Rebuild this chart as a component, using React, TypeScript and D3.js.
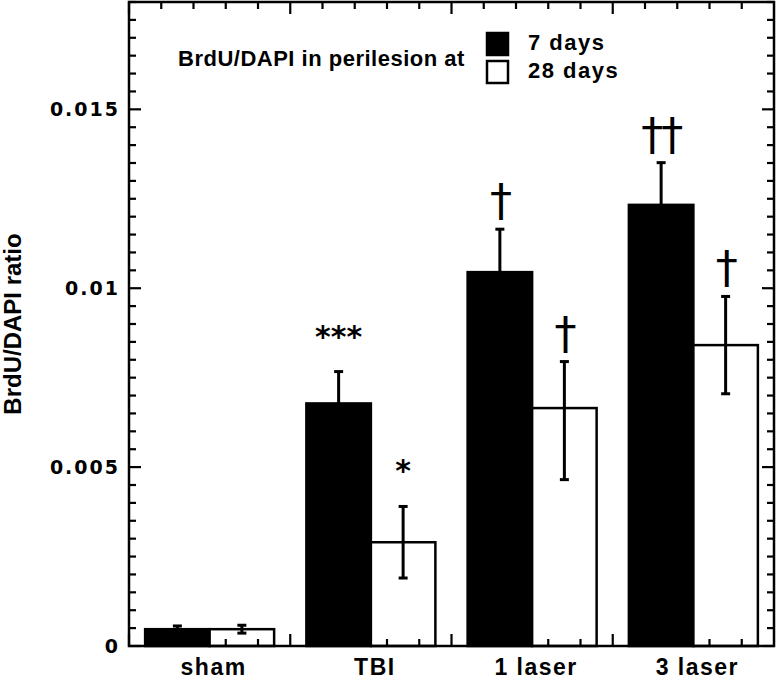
import * as d3 from 'd3'

const categories = ['sham', 'TBI', '1 laser', '3 laser']
const seriesNames = ['7 days', '28 days']
const days7 = [0.00047, 0.00678, 0.01045, 0.01233]
const days7ErrUp = [0.00009, 0.00089, 0.0012, 0.00118]
const days7ErrDown = [0.00009, 0.00089, 0.0012, 0.00118]
const days28 = [0.00047, 0.0029, 0.00665, 0.00841]
const days28ErrUp = [0.00011, 0.001, 0.0013, 0.00136]
const days28ErrDown = [0.00011, 0.001, 0.002, 0.00136]
const days7Marks = ['', '***', '†', '††']
const days28Marks = ['', '*', '†', '†']
const yTicks = [0, 0.005, 0.01, 0.015]
const yTickLabels = ['0', '0.005', '0.01', '0.015']

const W = 776
const H = 685
const left = 129
const right = 774
const top = 2
const bottom = 646
const boldSans = 'Liberation Sans, Arial, sans-serif'
const wideSans = 'DejaVu Sans, Verdana, sans-serif'

export default function App() {
  const x0 = d3.scaleBand<string>().domain(categories).range([left, right]).paddingInner(0).paddingOuter(0)
  const x1 = d3.scaleBand<string>().domain(seriesNames).range([0, x0.bandwidth()]).paddingInner(0).paddingOuter(0.25)
  const y = d3.scaleLinear().domain([0, 0.018]).range([bottom, top])

  const minorY = y.ticks(36)
  const xMinor: { x: number; major: boolean }[] = []
  categories.forEach(c => {
    d3.range(5).forEach(k => {
      xMinor.push({ x: (x0(c) as number) + (k * x0.bandwidth()) / 5, major: k === 0 })
    })
  })

  const series = [
    { name: seriesNames[0], values: days7, up: days7ErrUp, down: days7ErrDown, marks: days7Marks, fill: '#000' },
    { name: seriesNames[1], values: days28, up: days28ErrUp, down: days28ErrDown, marks: days28Marks, fill: '#fff' }
  ]

  return (
    <div style={{ position: 'absolute', left: 0, top: 0 }}>
      <svg width={W} height={H} style={{ display: 'block', background: '#fff' }}>
        {/* bars */}
        {series.map(s =>
          categories.map((c, i) => {
            const bx = (x0(c) as number) + (x1(s.name) as number)
            const by = y(s.values[i])
            return (
              <rect
                key={s.name + c}
                x={bx}
                y={by}
                width={x1.bandwidth()}
                height={bottom - by}
                fill={s.fill}
                stroke="#000"
                strokeWidth={2.5}
              />
            )
          })
        )}

        {/* ticks */}
        <g stroke="#000" strokeWidth={2.2}>
          {minorY.map((t, i) => {
            const major = yTicks.some(v => Math.abs(v - t) < 1e-9)
            const len = major ? 12 : 7
            return (
              <g key={'yt' + i}>
                <line x1={left} x2={left + len} y1={y(t)} y2={y(t)} />
                <line x1={right} x2={right - len} y1={y(t)} y2={y(t)} />
              </g>
            )
          })}
          {xMinor.map((t, i) => {
            const len = t.major ? 12 : 7
            return (
              <g key={'xt' + i}>
                <line x1={t.x} x2={t.x} y1={top} y2={top + len} />
                <line x1={t.x} x2={t.x} y1={bottom} y2={bottom - len} />
              </g>
            )
          })}
        </g>

        {/* error bars */}
        {series.map(s =>
          categories.map((c, i) => {
            const cx = (x0(c) as number) + (x1(s.name) as number) + x1.bandwidth() / 2
            const hi = y(s.values[i] + s.up[i])
            const lo = y(s.values[i] - s.down[i])
            return (
              <g key={'e' + s.name + c} stroke="#000" strokeWidth={3}>
                <line x1={cx} x2={cx} y1={hi} y2={lo} />
                <line x1={cx - 4.5} x2={cx + 4.5} y1={hi} y2={hi} />
                <line x1={cx - 4.5} x2={cx + 4.5} y1={lo} y2={lo} />
              </g>
            )
          })
        )}

        {/* significance marks */}
        {series.map(s =>
          categories.map((c, i) => {
            const m = s.marks[i]
            if (!m) return null
            const cx = (x0(c) as number) + (x1(s.name) as number) + x1.bandwidth() / 2
            const hi = y(s.values[i] + s.up[i])
            const star = m.includes('*')
            return (
              <text
                key={'m' + s.name + c}
                x={cx}
                y={star ? hi - 25 : hi - 13}
                textAnchor="middle"
                fontFamily={wideSans}
                fontWeight={star ? 'bold' : 'normal'}
                fontSize={star ? 30 : 44}
                letterSpacing={star ? 0 : -2}
              >
                {m}
              </text>
            )
          })
        )}

        {/* frame */}
        <rect x={left} y={top} width={right - left} height={bottom - top} fill="none" stroke="#000" strokeWidth={2.5} />

        {/* y tick labels */}
        {yTicks.map((t, i) => (
          <text
            key={'yl' + i}
            x={120}
            y={y(t) + 7}
            textAnchor="end"
            fontFamily={wideSans}
            fontWeight="bold"
            fontSize={19}
            letterSpacing={2}
          >
            {yTickLabels[i]}
          </text>
        ))}

        {/* x labels */}
        {categories.map(c => (
          <text
            key={'xl' + c}
            x={(x0(c) as number) + x0.bandwidth() / 2 + 4}
            y={675}
            textAnchor="middle"
            fontFamily={boldSans}
            fontWeight="bold"
            fontSize={23}
            letterSpacing={1.5}
          >
            {c}
          </text>
        ))}

        {/* y axis title */}
        <text
          transform={`translate(21, 324) rotate(-90)`}
          textAnchor="middle"
          fontFamily={boldSans}
          fontWeight="bold"
          fontSize={24}
        >
          BrdU/DAPI ratio
        </text>

        {/* title and legend */}
        <text x={178} y={66} fontFamily={boldSans} fontWeight="bold" fontSize={22} letterSpacing={0.5}>
          BrdU/DAPI in perilesion at
        </text>
        {series.map((s, i) => (
          <g key={'lg' + s.name}>
            <rect x={487} y={33 + i * 28} width={21} height={22} fill={s.fill} stroke="#000" strokeWidth={2.5} />
            <text x={528} y={50 + i * 28} fontFamily={boldSans} fontWeight="bold" fontSize={22} letterSpacing={1.5}>
              {s.name}
            </text>
          </g>
        ))}
      </svg>
    </div>
  )
}
